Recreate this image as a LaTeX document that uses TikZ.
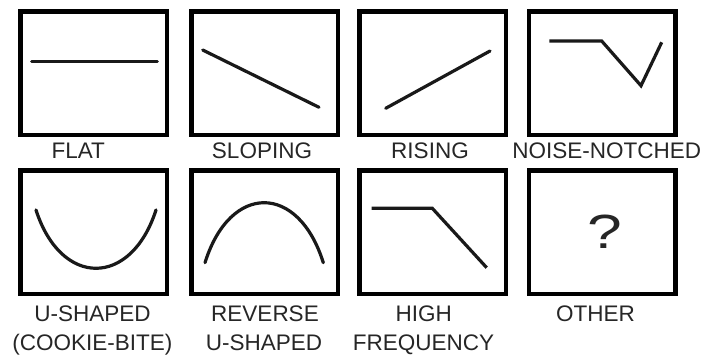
\documentclass[tikz,border=0pt]{standalone}
\usepackage{fontspec}
\setmainfont{Liberation Sans}
\begin{document}
\begin{tikzpicture}[x=1pt,y=-1pt,
  panel/.style={draw=black, line width=4.5pt, minimum width=146.5pt, minimum height=123.5pt, inner sep=0pt},
  curve/.style={line width=3.2pt, line cap=round, black!90},
  lab/.style={anchor=base, font=\fontsize{22.5pt}{27pt}\selectfont, text=black!85, inner sep=0pt}]
\useasboundingbox (0,0) rectangle (713,354);
% panels
\node[panel] (p1) at (93.75,73) {};
\node[panel] (p2) at (264.5,73) {};
\node[panel] (p3) at (432.6,73) {};
\node[panel] (p4) at (602.4,73) {};
\node[panel] (p5) at (93.75,232) {};
\node[panel] (p6) at (264.5,232) {};
\node[panel] (p7) at (432.6,232) {};
\node[panel] (p8) at (602.4,232) {};
% curves
\draw[curve] (31.7,61.3) -- (157.3,61.3);
\draw[curve] (202.7,50) -- (319,107.3);
\draw[curve] (385.7,108.3) -- (490,51);
\draw[curve, line join=miter, line cap=butt] (549.3,41) -- (601.7,41) -- (641,85.7) -- (661.7,42.3);
\draw[curve] (36,210) .. controls (61,287.7) and (131,287.7) .. (156,210);
\draw[curve] (205,262.7) .. controls (230,182.7) and (298.3,182.7) .. (323.3,262.7);
\draw[curve, line join=miter, line cap=butt] (371.7,208.3) -- (432.3,208.3) -- (486.7,267.7);
\node[anchor=base, inner sep=0pt, xscale=1.3, font=\fontsize{48pt}{56pt}\selectfont, text=black!85] (q) at (605,248) {?};
% labels
\node[lab] (l1) at (78.3,158.3) {FLAT};
\node[lab] (l2) at (262,158.3) {SLOPING};
\node[lab] (l3) at (430,158.3) {RISING};
\node[lab] (l4) at (606.8,158.3) {NOISE-NOTCHED};
\node[lab] (l5a) at (92.5,321.7) {U-SHAPED};
\node[lab] (l5b) at (92.3,350) {(COOKIE-BITE)};
\node[lab] (l6a) at (265,321.7) {REVERSE};
\node[lab] (l6b) at (264,350) {U-SHAPED};
\node[lab] (l7a) at (423.8,321.7) {HIGH};
\node[lab] (l7b) at (423.5,350) {FREQUENCY};
\node[lab] (l8) at (595.5,321.7) {OTHER};
\end{tikzpicture}
\end{document}
